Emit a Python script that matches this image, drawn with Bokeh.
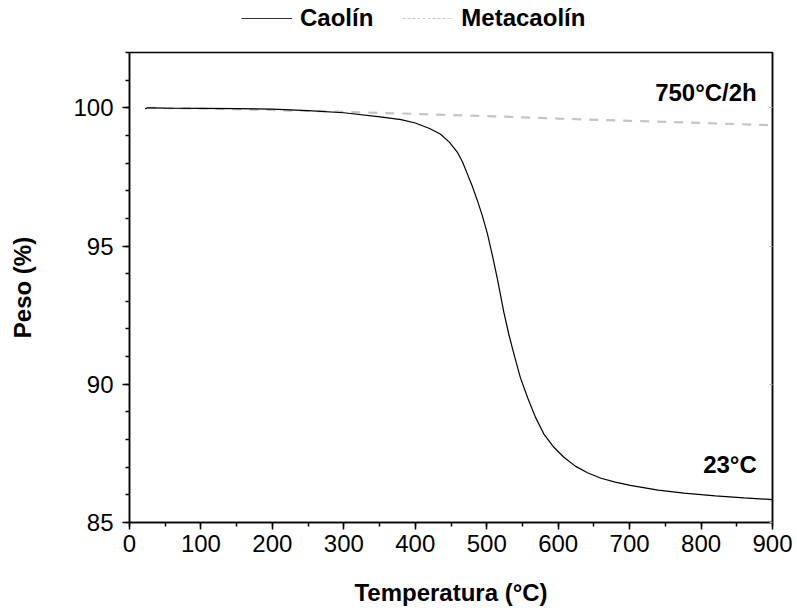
from bokeh.plotting import figure
from bokeh.layouts import column
from bokeh.models import Range1d, LinearAxis, Legend, LegendItem, FixedTicker
from bokeh.core.properties import value
from bokeh.embed import file_html
from bokeh.resources import INLINE

# Caolín (23°C) TGA curve
caolin_T = [22, 25, 28, 50, 100, 150, 200, 250, 300, 351, 380, 400, 420, 435, 448, 459,
            466, 473, 480, 487, 494, 501, 508, 515, 524, 531, 538, 547, 557, 568, 580,
            594, 608, 624, 641, 660, 680, 701, 740, 776, 820, 860, 900]
caolin_W = [99.96, 100.0, 100.0, 99.99, 99.98, 99.97, 99.95, 99.9, 99.82, 99.67, 99.57,
            99.45, 99.25, 99.05, 98.75, 98.39, 98.05, 97.6, 97.15, 96.64, 96.08, 95.44,
            94.65, 93.8, 92.6, 91.8, 91.1, 90.25, 89.53, 88.82, 88.2, 87.72, 87.36,
            87.04, 86.8, 86.6, 86.46, 86.34, 86.17, 86.06, 85.96, 85.89, 85.83]

# Metacaolín (750°C/2h)
meta_T = [25, 100, 200, 300, 400, 500, 600, 700, 800, 900]
meta_W = [100.0, 99.97, 99.92, 99.85, 99.78, 99.7, 99.61, 99.53, 99.45, 99.37]

x_ticks = [0, 100, 200, 300, 400, 500, 600, 700, 800, 900]
y_ticks = [85, 90, 95, 100]
series_names = ["Caolín", "Metacaolín"]

FONT = "Liberation Sans"
FS = "24px"
LEG_H = 40

# ---- legend strip on top ----
lf = figure(width=797, height=LEG_H, output_backend="svg", toolbar_location=None,
            x_range=Range1d(0, 1), y_range=Range1d(0, 1),
            x_axis_type=None, y_axis_type=None,
            min_border_left=0, min_border_right=0, min_border_top=0, min_border_bottom=0)
lf.grid.visible = False
lf.outline_line_color = None
# off-screen proxies so the legend can draw its swatches
l1 = lf.line([5, 6], [5, 6], line_color="#333333", line_width=1.2)
l2 = lf.line([5, 6], [5, 6], line_color="#c8c8c8", line_width=1.2, line_dash="3 2")
legend = Legend(items=[LegendItem(label=series_names[0], renderers=[l1]),
                       LegendItem(label=series_names[1], renderers=[l2])],
                orientation="horizontal", location=(112, 8),
                glyph_width=51, label_standoff=8, spacing=29, padding=0, margin=0,
                border_line_color=None, background_fill_alpha=0,
                label_text_font=FONT, label_text_font_style="bold",
                label_text_font_size=FS, label_text_color="black")
lf.add_layout(legend, "center")

# ---- main plot ----
p = figure(width=797, height=611 - LEG_H, output_backend="svg", toolbar_location=None,
           x_range=Range1d(0, 900), y_range=Range1d(85, 102),
           min_border_left=129, min_border_right=25, min_border_top=52 - LEG_H,
           min_border_bottom=89)
p.grid.visible = False
p.background_fill_color = "white"
p.border_fill_color = "white"
p.outline_line_color = "black"
p.outline_line_width = 1.5

r2 = p.line(meta_T, meta_W, line_color="#c4c4c4", line_width=2.2, line_dash="9 8")
r1 = p.line(caolin_T, caolin_W, line_color="black", line_width=1.2)

for ax in (p.xaxis[0], p.yaxis[0]):
    ax.axis_line_width = 1.5
    ax.major_tick_line_width = 1.5
    ax.minor_tick_line_width = 1.5
    ax.major_tick_out = 7
    ax.major_tick_in = 0
    ax.minor_tick_out = 4
    ax.minor_tick_in = 0
    ax.major_label_text_font = FONT
    ax.major_label_text_font_size = FS
    ax.major_label_text_color = "black"
    ax.axis_label_text_font = FONT
    ax.axis_label_text_font_style = "bold"
    ax.axis_label_text_font_size = FS
    ax.axis_label_text_color = "black"

p.xaxis[0].ticker = FixedTicker(ticks=x_ticks, minor_ticks=list(range(0, 901, 50)))
p.yaxis[0].ticker = FixedTicker(ticks=y_ticks, minor_ticks=list(range(85, 103)))
p.xaxis[0].axis_label = "Temperatura (°C)"
p.yaxis[0].axis_label = "Peso (%)"
p.xaxis[0].major_label_standoff = 5
p.xaxis[0].axis_label_standoff = 24
p.yaxis[0].major_label_standoff = 9
p.yaxis[0].axis_label_standoff = 34

ra = LinearAxis(ticker=FixedTicker(ticks=y_ticks, minor_ticks=list(range(85, 103))))
ra.major_label_text_font_size = "0px"
ra.major_tick_in = 3
ra.major_tick_out = 0
ra.minor_tick_in = 0
ra.minor_tick_out = 0
ra.major_tick_line_color = "#aaaaaa"
ra.axis_line_width = 1.5
ra.major_label_standoff = 0
p.add_layout(ra, "right")

p.text(x=[878], y=[100.54], text=["750°C/2h"], text_font=value(FONT),
       text_font_style="bold", text_font_size=FS, text_align="right",
       text_baseline="middle", text_color="black")
p.text(x=[878], y=[87.1], text=["23°C"], text_font=value(FONT),
       text_font_style="bold", text_font_size=FS, text_align="right",
       text_baseline="middle", text_color="black")

layout = column(lf, p, spacing=0)
open("out.html", "w").write(file_html(layout, INLINE))
